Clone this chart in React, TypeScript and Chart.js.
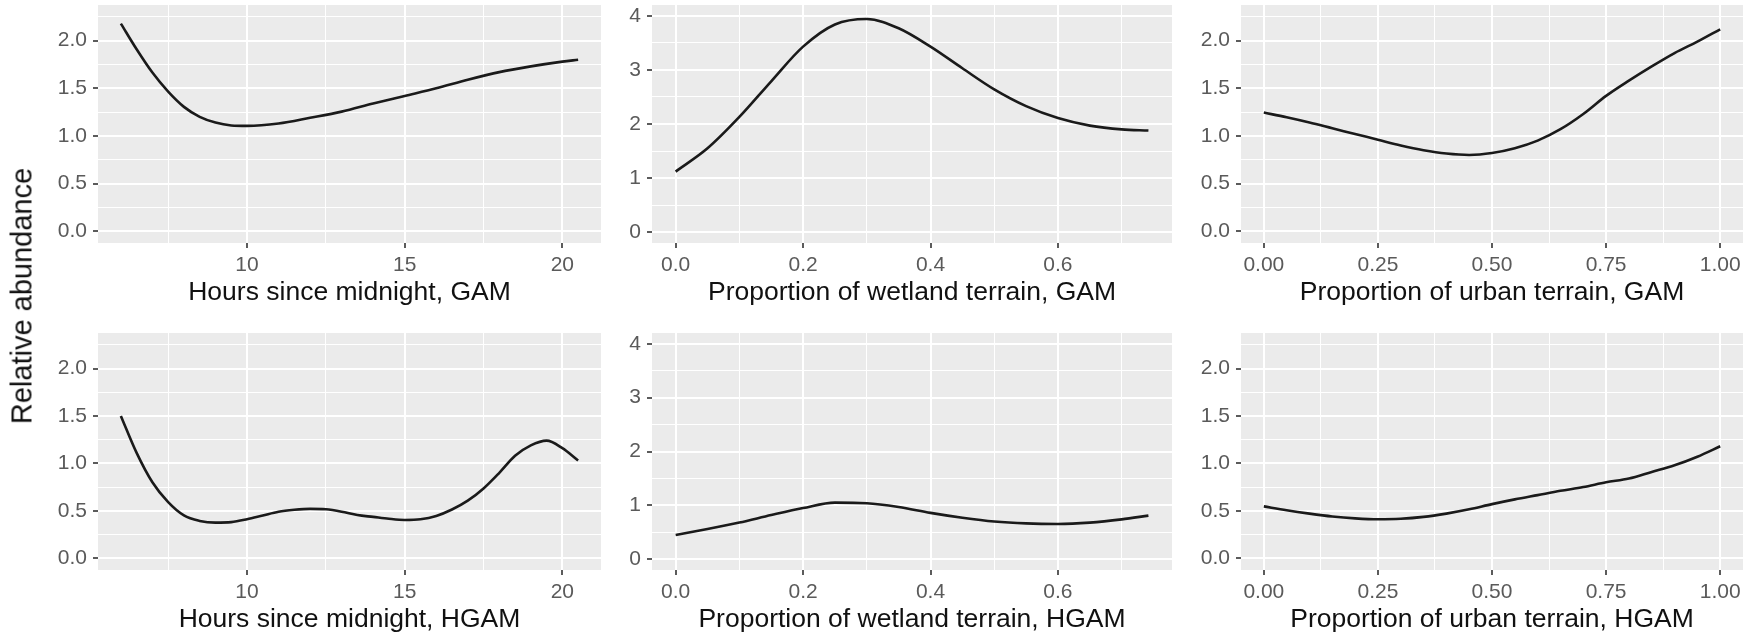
import React, { useEffect, useRef } from "react";
import { Chart, registerables } from "chart.js";

Chart.register(...registerables);

// ---------- data ----------
const hoursX = [6, 6.5, 7, 7.5, 8, 8.5, 9, 9.5, 10, 11, 12, 13, 14, 15, 16, 17, 18, 19, 20, 20.5];
const hoursGAM = [2.18, 1.91, 1.665, 1.465, 1.305, 1.2, 1.14, 1.11, 1.105, 1.13, 1.19, 1.255, 1.34, 1.42, 1.5, 1.59, 1.67, 1.73, 1.78, 1.8];

const hoursXH = [6, 6.5, 7, 7.5, 8, 8.5, 9, 9.5, 10, 10.5, 11, 11.5, 12, 12.5, 13, 13.5, 14, 14.5, 15, 15.5, 16, 16.5, 17, 17.5, 18, 18.5, 19, 19.5, 20, 20.5];
const hoursHGAM = [1.5, 1.11, 0.8, 0.59, 0.45, 0.393, 0.375, 0.38, 0.41, 0.45, 0.49, 0.51, 0.52, 0.515, 0.49, 0.455, 0.435, 0.415, 0.403, 0.41, 0.445, 0.513, 0.606, 0.735, 0.9, 1.08, 1.19, 1.24, 1.16, 1.03];

const wetlandX = [0, 0.05, 0.1, 0.15, 0.2, 0.25, 0.3, 0.35, 0.4, 0.45, 0.5, 0.55, 0.6, 0.65, 0.7, 0.742];
const wetlandGAM = [1.12, 1.55, 2.13, 2.79, 3.43, 3.84, 3.94, 3.77, 3.43, 3.03, 2.64, 2.33, 2.11, 1.97, 1.9, 1.88];
const wetlandHGAM = [0.45, 0.56, 0.68, 0.82, 0.95, 1.05, 1.04, 0.97, 0.86, 0.77, 0.7, 0.665, 0.655, 0.68, 0.74, 0.81];

const urbanX = [0, 0.05, 0.1, 0.15, 0.2, 0.25, 0.3, 0.35, 0.4, 0.45, 0.5, 0.55, 0.6, 0.65, 0.7, 0.75, 0.8, 0.85, 0.9, 0.95, 1.0];
const urbanGAM = [1.245, 1.195, 1.14, 1.08, 1.02, 0.96, 0.9, 0.85, 0.815, 0.8, 0.82, 0.87, 0.95, 1.07, 1.23, 1.42, 1.58, 1.73, 1.87, 1.99, 2.12];
const urbanHGAM = [0.546, 0.505, 0.47, 0.44, 0.42, 0.41, 0.415, 0.435, 0.47, 0.515, 0.57, 0.62, 0.665, 0.71, 0.75, 0.8, 0.84, 0.91, 0.98, 1.07, 1.18];

// tick labels
const hoursTicks = [10, 15, 20];
const wetlandXTicks = [0, 0.2, 0.4, 0.6];
const urbanXTicks = [0, 0.25, 0.5, 0.75, 1];
const abundanceTicks = [0, 0.5, 1, 1.5, 2];
const wetlandYTicks = [0, 1, 2, 3, 4];

const yAxisTitle = "Relative abundance";
const xTitles = [
  "Hours since midnight, GAM",
  "Proportion of wetland terrain, GAM",
  "Proportion of urban terrain, GAM",
  "Hours since midnight, HGAM",
  "Proportion of wetland terrain, HGAM",
  "Proportion of urban terrain, HGAM",
];

// ---------- styling / layout ----------
const FONT = '"Liberation Sans", Arial, Helvetica, sans-serif';
const TICK_COLOR = "#5A5A5A";
const TITLE_COLOR = "#111111";
const TICK_SIZE = 21;
const XTITLE_SIZE = 26.5;
const YTITLE_SIZE = 29;
const COLS = [
  { L: 98, R: 601 },
  { L: 652, R: 1172 },
  { L: 1241, R: 1743 },
];
const ROWS = [
  { T: 5, B: 243 },
  { T: 333, B: 570 },
];
const YW = 90;
const XH = 70;
const PT = 20;
const PR = 15;

type Spec = {
  xs: number[];
  ys: number[];
  xRange: [number, number];
  yRange: [number, number];
  xTicks: number[];
  yTicks: number[];
  xDec: number;
  yDec: number;
  title: string;
  col: number;
  row: number;
};

const HOURS_R: [number, number] = [5.275, 21.225];
const WET_R: [number, number] = [-0.0371, 0.779];
const URB_R: [number, number] = [-0.05, 1.05];
const AB_R: [number, number] = [-0.125, 2.375];
const WY_R: [number, number] = [-0.2, 4.2];

const specs: Spec[] = [
  { xs: hoursX, ys: hoursGAM, xRange: HOURS_R, yRange: AB_R, xTicks: hoursTicks, yTicks: abundanceTicks, xDec: 0, yDec: 1, title: xTitles[0], col: 0, row: 0 },
  { xs: wetlandX, ys: wetlandGAM, xRange: WET_R, yRange: WY_R, xTicks: wetlandXTicks, yTicks: wetlandYTicks, xDec: 1, yDec: 0, title: xTitles[1], col: 1, row: 0 },
  { xs: urbanX, ys: urbanGAM, xRange: URB_R, yRange: AB_R, xTicks: urbanXTicks, yTicks: abundanceTicks, xDec: 2, yDec: 1, title: xTitles[2], col: 2, row: 0 },
  { xs: hoursXH, ys: hoursHGAM, xRange: HOURS_R, yRange: AB_R, xTicks: hoursTicks, yTicks: abundanceTicks, xDec: 0, yDec: 1, title: xTitles[3], col: 0, row: 1 },
  { xs: wetlandX, ys: wetlandHGAM, xRange: WET_R, yRange: WY_R, xTicks: wetlandXTicks, yTicks: wetlandYTicks, xDec: 1, yDec: 0, title: xTitles[4], col: 1, row: 1 },
  { xs: urbanX, ys: urbanHGAM, xRange: URB_R, yRange: AB_R, xTicks: urbanXTicks, yTicks: abundanceTicks, xDec: 2, yDec: 1, title: xTitles[5], col: 2, row: 1 },
];

function withMinor(majors: number[], range: [number, number]): number[] {
  const step = majors[1] - majors[0];
  const all: number[] = [];
  const start = majors[0] - step;
  for (let k = 0; k <= majors.length * 2 + 2; k++) {
    const v = +(start + (k * step) / 2).toFixed(6);
    if (v >= range[0] - 1e-9 && v <= range[1] + 1e-9) all.push(v);
  }
  return all;
}

const isIn = (v: number, arr: number[]) => arr.some((m) => Math.abs(m - v) < 1e-6);

const bgPlugin = {
  id: "panelBg",
  beforeDraw(chart: any) {
    const { ctx, chartArea } = chart;
    if (!chartArea) return;
    ctx.save();
    ctx.fillStyle = "#EBEBEB";
    ctx.fillRect(chartArea.left, chartArea.top, chartArea.right - chartArea.left, chartArea.bottom - chartArea.top);
    ctx.restore();
  },
};

function Panel({ spec }: { spec: Spec }) {
  const ref = useRef<HTMLCanvasElement>(null);
  const { L, R } = COLS[spec.col];
  const { T, B } = ROWS[spec.row];
  const w = R - L + YW + PR;
  const h = B - T + PT + XH;

  useEffect(() => {
    if (!ref.current) return;
    const xAll = withMinor(spec.xTicks, spec.xRange);
    const yAll = withMinor(spec.yTicks, spec.yRange);
    const chart = new Chart(ref.current, {
      type: "line",
      data: {
        datasets: [
          {
            data: spec.xs.map((x, i) => ({ x, y: spec.ys[i] })),
            borderColor: "#1A1A1A",
            borderWidth: 2.6,
            pointRadius: 0,
            cubicInterpolationMode: "monotone",
            fill: false,
          },
        ],
      },
      options: {
        animation: false,
        responsive: false,
        maintainAspectRatio: false,
        events: [],
        layout: { padding: { left: 0, top: PT, right: PR, bottom: 0 } },
        plugins: { legend: { display: false }, tooltip: { enabled: false } },
        scales: {
          x: {
            type: "linear",
            min: spec.xRange[0],
            max: spec.xRange[1],
            afterBuildTicks: (s: any) => {
              s.ticks = xAll.map((v) => ({ value: v }));
            },
            afterFit: (s: any) => {
              s.height = XH;
            },
            ticks: {
              autoSkip: false,
              maxRotation: 0,
              padding: 5,
              color: TICK_COLOR,
              font: { family: FONT, size: TICK_SIZE },
              callback: (v: any) => (isIn(Number(v), spec.xTicks) ? Number(v).toFixed(spec.xDec) : ""),
            },
            grid: {
              color: "#FFFFFF",
              lineWidth: (c: any) => (c.tick && isIn(c.tick.value, spec.xTicks) ? 2 : 1),
              tickLength: 5,
              tickWidth: 1.6,
              tickColor: (c: any) => (c.tick && isIn(c.tick.value, spec.xTicks) ? "#333333" : "rgba(0,0,0,0)"),
            },
            border: { display: false },
            title: {
              display: true,
              text: spec.title,
              color: TITLE_COLOR,
              font: { family: FONT, size: XTITLE_SIZE },
              padding: { top: 0, bottom: 4 },
            },
          },
          y: {
            type: "linear",
            min: spec.yRange[0],
            max: spec.yRange[1],
            afterBuildTicks: (s: any) => {
              s.ticks = yAll.map((v) => ({ value: v }));
            },
            afterFit: (s: any) => {
              s.width = YW;
            },
            ticks: {
              autoSkip: false,
              padding: 6,
              color: TICK_COLOR,
              font: { family: FONT, size: TICK_SIZE },
              callback: (v: any) => (isIn(Number(v), spec.yTicks) ? Number(v).toFixed(spec.yDec) : ""),
            },
            grid: {
              color: "#FFFFFF",
              lineWidth: (c: any) => (c.tick && isIn(c.tick.value, spec.yTicks) ? 2 : 1),
              tickLength: 5,
              tickWidth: 1.6,
              tickColor: (c: any) => (c.tick && isIn(c.tick.value, spec.yTicks) ? "#333333" : "rgba(0,0,0,0)"),
            },
            border: { display: false },
          },
        },
      } as any,
      plugins: [bgPlugin],
    });
    return () => chart.destroy();
  }, []);

  return (
    <canvas
      ref={ref}
      width={w}
      height={h}
      style={{ position: "absolute", left: L - YW, top: T - PT, width: w, height: h }}
    />
  );
}

export default function App() {
  return (
    <div
      style={{
        position: "absolute",
        left: 0,
        top: 0,
        width: 1756,
        height: 635,
        background: "#FFFFFF",
        overflow: "hidden",
      }}
    >
      {specs.map((s, i) => (
        <Panel key={i} spec={s} />
      ))}
      <div
        style={{
          position: "absolute",
          left: 22,
          top: 296,
          transform: "translate(-50%, -50%) rotate(-90deg)",
          fontFamily: FONT,
          fontSize: YTITLE_SIZE,
          color: TITLE_COLOR,
          whiteSpace: "nowrap",
          lineHeight: 1,
        }}
      >
        {yAxisTitle}
      </div>
    </div>
  );
}
